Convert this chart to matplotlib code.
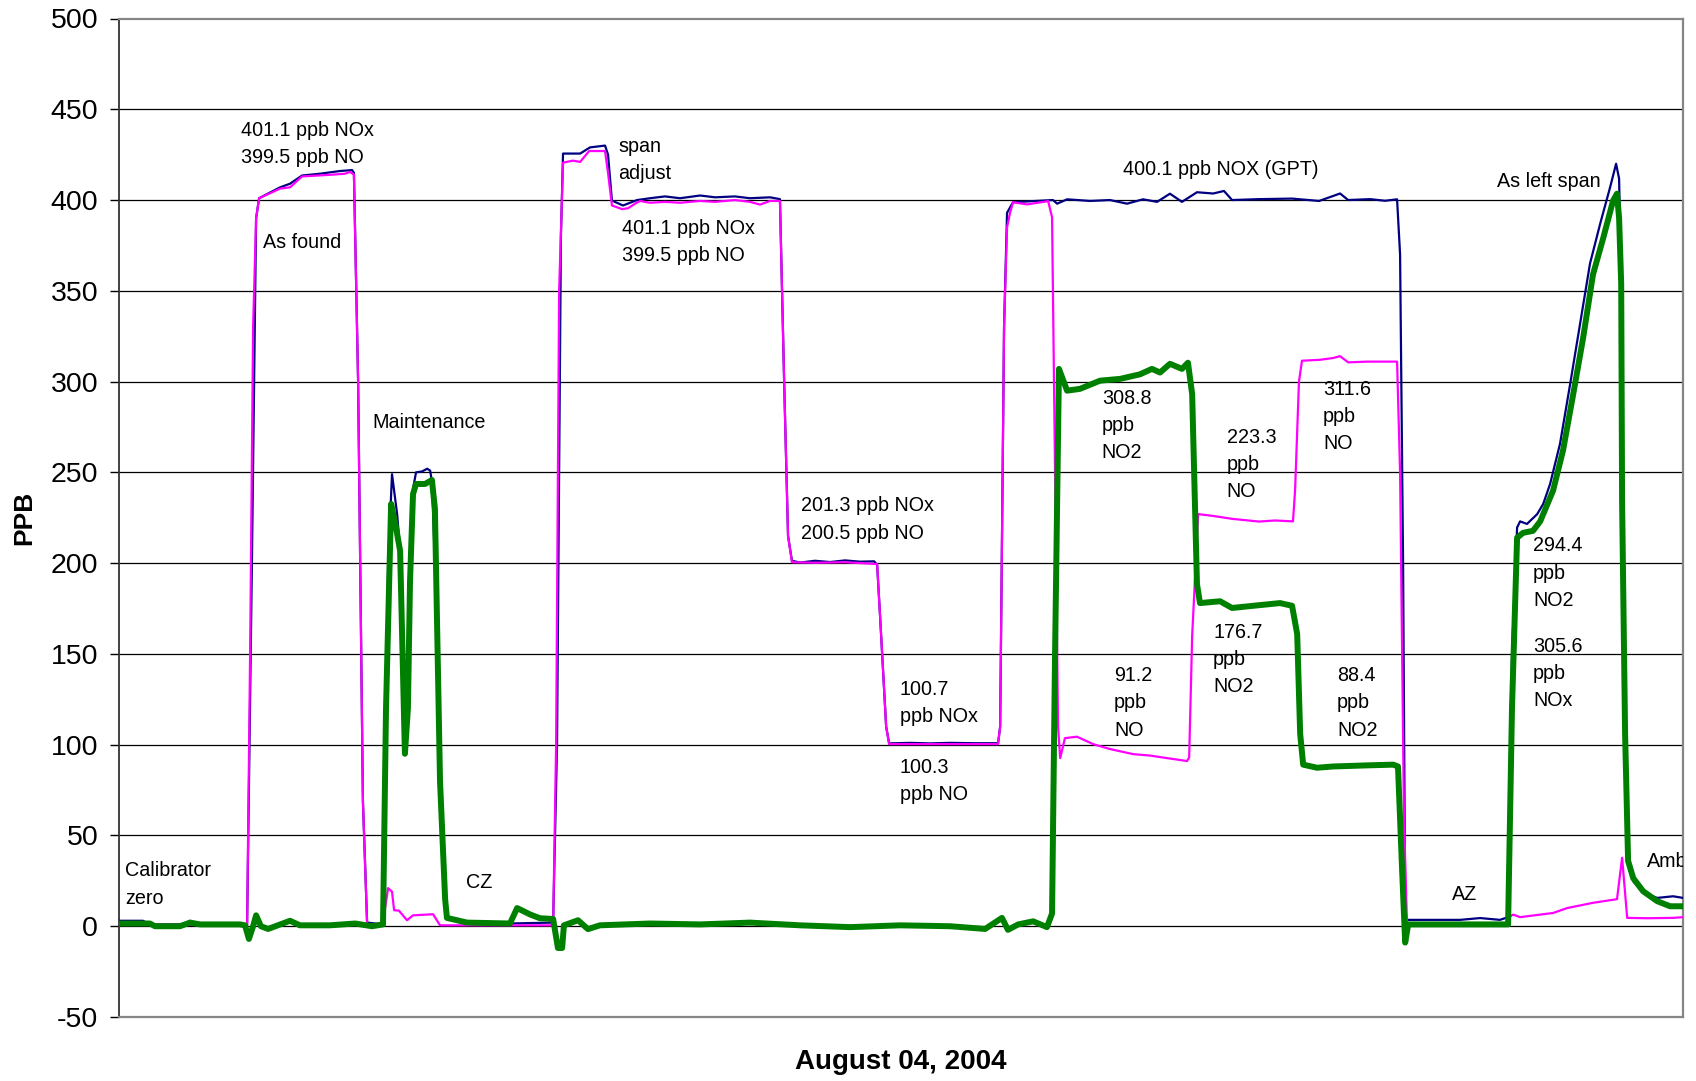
import matplotlib
matplotlib.use("Agg")
import matplotlib.pyplot as plt

plt.rcParams["font.family"] = ["Liberation Sans", "DejaVu Sans"]
plt.rcParams["axes.unicode_minus"] = False

# Elapsed time (minutes from start of the calibration run) and readings in ppb
nox_t = [0, 8, 10.3, 22, 23.7, 25.3, 42.7, 44.3, 45.7, 46.7, 53.7, 57, 61, 67, 73.7, 77.7,
         78.3, 79.7, 81.3, 82.7, 88, 89.7, 91, 92.7, 93.7, 95.3, 96.3, 98, 99, 101, 102.7,
         103.7, 104.3, 105.3, 107, 108.7, 109.3, 116, 130.3, 144.7, 146, 147.3, 148, 149.3,
         153.7, 157, 162, 163, 164.3, 168, 172.7, 177, 182, 187, 193.7, 198.7, 205.3, 210.3,
         217, 220.3, 221.7, 223, 224.3, 227, 232, 237, 242, 247, 251.7, 252.7, 253.7, 255.7,
         256.7, 263.7, 270.3, 277, 285.3, 293, 293.7, 295, 296, 298, 311.3, 312.7, 316,
         323.7, 330.3, 336, 341.3, 346, 350.3, 354.3, 359.3, 364.7, 368.3, 371, 380, 391,
         400, 407, 409.7, 417, 422, 426, 427, 428, 428.7, 429.3, 447, 453.7, 460.3, 463,
         464.3, 466, 467, 469.3, 472.7, 474.7, 477, 480.3, 483.7, 487, 490.3, 493.7, 497,
         499, 500, 500.7, 501, 502, 503, 504.7, 508, 512.7, 518, 521.3]
nox_ppb = [3.0, 3.0, 1.0, 1.0, 3.0, 1.0, 1.0, 200, 390, 401, 407, 409, 413.5, 414.5, 416,
           416.5, 415, 300, 69, 2, 1, 200, 249, 227, 207, 105, 120, 241, 250, 250.5, 252,
           251, 245, 200, 80, 15, 4, 2, 1.5, 2, 100, 380, 425.6, 425.6, 425.6, 429, 430,
           425, 399.7, 397, 400, 401, 402, 401, 402.5, 401.5, 402, 401, 401.5, 400.5, 300,
           215, 201.3, 200.3, 201.3, 200.6, 201.5, 200.8, 201, 199, 170, 110, 100.7, 101,
           100.7, 101, 100.8, 100.8, 110, 330, 393, 398.8, 400, 398, 400.4, 399.5, 400, 398,
           400.4, 399, 403.5, 399, 404.3, 403.6, 405, 400, 400.5, 400.8, 399.5, 403.6, 400,
           400.5, 399.6, 400.4, 370, 200, 10, 3.5, 3.5, 4.5, 3.5, 5, 150, 219.6, 223, 221.6,
           227, 232.6, 243.6, 265.7, 298.8, 331.9, 365, 387, 407, 420, 411.8, 354, 234, 110,
           40, 24.8, 18.4, 15.6, 16.5, 15.6]

no_t = [0, 42.7, 43.7, 44.7, 45.7, 46.7, 53.7, 57, 61, 71.3, 75.3, 77, 78.3, 79.7, 81.3,
        82.7, 88, 88.7, 89.7, 91, 91.7, 93.3, 96, 98, 104.7, 107, 144.7, 145.7, 146.7, 148,
        151.3, 153.7, 156.7, 162, 163, 164.3, 167.7, 169.7, 172, 173.7, 177, 182, 187,
        193.7, 198.7, 205.3, 210.3, 213.7, 217, 220.3, 221.7, 223, 224.3, 232, 242, 252.7,
        253.7, 255.7, 256.7, 270, 285, 293, 293.7, 295, 296, 297, 298, 302.7, 309.7, 311,
        312, 313, 313.7, 315.3, 319.3, 324.7, 330.3, 338, 343.7, 349.3, 356, 356.7, 357.7,
        359.7, 364.7, 371, 380, 385.3, 391.3, 392, 393.3, 394.3, 400.3, 404.7, 407, 409.7,
        416, 426, 427, 428.3, 429.3, 463, 463.7, 464.7, 467, 478, 482.7, 491.3, 499.3,
        501, 502.7, 509.3, 518, 521.3]
no_ppb = [1.0, 0.5, 150, 330, 390, 401, 406.3, 407, 413, 414, 414.5, 415.5, 414, 300, 69,
          1, 1, 10, 21, 19, 8.8, 8.6, 3.3, 6, 6.6, 0.5, 0.5, 100, 350, 420.6, 421.7, 421,
          427, 427, 415, 397, 395, 395.5, 398, 399.5, 398.5, 399, 398.5, 399.5, 399, 400,
          399, 397.5, 399.5, 399.5, 300, 215, 200.5, 200.2, 200.5, 199.5, 170, 110, 100.3,
          100.3, 100.3, 100.3, 110, 330, 385, 393, 398.8, 397.6, 399.4, 390.5, 250, 110,
          92.6, 103.6, 104.4, 100.3, 97.6, 94.8, 94, 92.6, 91, 93, 160, 227, 226, 224.4,
          222.9, 223.5, 223, 240, 300, 311.5, 312, 313, 314, 310.6, 311, 311, 250, 60, 1, 1,
          5.5, 6.4, 5, 7.3, 10, 12.9, 14.9, 37.7, 4.6, 4.4, 4.6, 5]

no2_t = [0, 10.3, 12, 20.3, 23.7, 27, 40.3, 42, 43.3, 44.7, 45.7, 47.3, 49.7, 57, 60.3,
         70.3, 78.7, 84.3, 88, 89, 90.7, 92.3, 93.7, 95.3, 96.3, 97, 98, 99, 102, 104.3,
         105.3, 107, 108.7, 109.3, 116, 130.3, 132.7, 137, 140.3, 144.7, 146.3, 147.7, 148.3,
         153, 156.3, 160.3, 177, 193.7, 210.3, 227, 243.7, 260.3, 277, 288.7, 294.3, 296.3,
         299.7, 304.7, 309.3, 311, 312, 313.3, 316, 320.3, 327, 333.7, 340.3, 344.3, 347,
         350.3, 354.3, 356.3, 357.7, 359.3, 360.3, 367, 371, 378, 387, 391, 392.7, 393.7,
         394.7, 399.3, 404.7, 416, 424.7, 426.3, 427.7, 428.7, 429.7, 463, 464.3, 466, 468,
         471.3, 473.7, 478, 481.3, 484.7, 488, 491.3, 494.7, 498, 499.3, 500, 500.7, 501,
         502, 503, 504.7, 508, 512.7, 517, 521.3]
no2_ppb = [1.5, 1.5, 0, 0, 2, 1, 1, 0.5, -7, 0, 6, 0, -1.5, 3, 0.5, 0.5, 1.5, 0, 1, 120,
           232.6, 220, 206.7, 95, 120, 190, 238, 243.6, 243.6, 245.8, 230, 80, 15, 4.6, 2,
           1.5, 10, 6.5, 4.4, 4, -12, -12, 0.5, 3.3, -1.6, 0.5, 1.5, 1, 2, 0.5, -0.5, 0.5, 0,
           -1.5, 4.6, -2, 1, 2.7, -0.5, 7, 150, 307, 295, 296, 300.5, 301.5, 304, 307, 305,
           309.8, 307, 310.4, 293, 188.5, 178, 179, 175.3, 176.5, 178, 176.5, 161, 106, 89,
           87.3, 88, 88.6, 89, 88, 30, -9, 1, 1, 120, 214, 216.7, 217.8, 223, 240, 262, 293,
           324, 359, 379, 399.7, 403.5, 390, 354, 234, 106, 36, 26.5, 19.3, 13.8, 11, 11]

y_ticks = list(range(-50, 501, 50))

fig = plt.figure(figsize=(16.96, 10.81), dpi=100)
ax = fig.add_axes([119 / 1696, 1 - 1017 / 1081, (1683 - 119) / 1696, (1017 - 18.5) / 1081])

ax.plot(nox_t, nox_ppb, color="#000080", lw=1.6, zorder=3)
ax.plot(no_t, no_ppb, color="#FF00FF", lw=1.6, zorder=4)
ax.plot(no2_t, no2_ppb, color="#008000", lw=4.3, zorder=5, solid_joinstyle="round")

ax.set_xlim(0, 521.3)
ax.set_ylim(-50, 500)
ax.set_yticks(y_ticks)
ax.set_xticks([])
ax.tick_params(axis="y", direction="out", length=6.5, width=1.0, pad=8.5, labelsize=20.5)
for y in y_ticks[1:-1]:
    ax.axhline(y, color="black", lw=0.9, zorder=1)

ax.spines["left"].set_color("#333333")
ax.spines["left"].set_linewidth(1.3)
for side in ("top", "right", "bottom"):
    ax.spines[side].set_color("#868686")
    ax.spines[side].set_linewidth(1.6)

ax.set_ylabel("PPB", fontsize=19, fontweight="bold")
ax.yaxis.label.set_va("center")
ax.yaxis.set_label_coords(-0.0607, 0.5)
ax.set_xlabel("August 04, 2004", fontsize=20, fontweight="bold")
ax.xaxis.label.set_va("center")
ax.xaxis.set_label_coords(0.5, -0.045)

notes = [
    (40.6, 430.7, "401.1 ppb NOx\n399.5 ppb NO"),
    (48.0, 376.8, "As found"),
    (84.6, 277.2, "Maintenance"),
    (2.0, 23.0, "Calibrator\nzero"),
    (115.6, 24.2, "CZ"),
    (166.3, 422.0, "span\nadjust"),
    (167.6, 376.9, "401.1 ppb NOx\n399.5 ppb NO"),
    (227.2, 224.0, "201.3 ppb NOx\n200.5 ppb NO"),
    (260.3, 122.9, "100.7\nppb NOx"),
    (260.3, 80.0, "100.3\nppb NO"),
    (334.6, 416.8, "400.1 ppb NOX (GPT)"),
    (327.6, 275.7, "308.8\nppb\nNO2"),
    (331.7, 123.0, "91.2\nppb\nNO"),
    (369.2, 254.2, "223.3\nppb\nNO"),
    (364.7, 147.0, "176.7\nppb\nNO2"),
    (401.3, 280.7, "311.6\nppb\nNO"),
    (406.0, 123.0, "88.4\nppb\nNO2"),
    (471.3, 194.5, "294.4\nppb\nNO2"),
    (471.3, 139.2, "305.6\nppb\nNOx"),
    (459.3, 410.4, "As left span"),
    (444.2, 17.6, "AZ"),
    (509.2, 35.8, "Amb"),
]
for x, y, s in notes:
    ax.text(x, y, s, fontsize=14.2, ha="left", va="center", linespacing=1.55,
            zorder=6, clip_on=True)

fig.savefig("out.png", dpi=100)
